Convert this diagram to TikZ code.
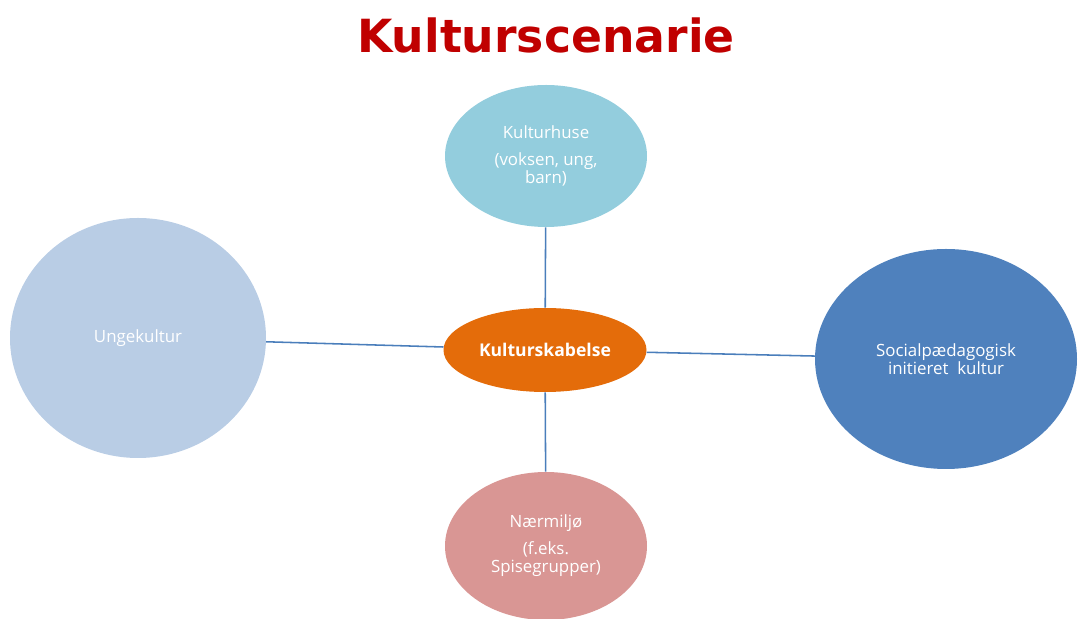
\documentclass[tikz,border=0pt]{standalone}
\usepackage{fontspec}
\setmainfont{Open Sans}
\newfontfamily\titlefont{DejaVu Sans}
\usetikzlibrary{shapes.geometric}
\definecolor{husblue}{HTML}{93CDDD}
\definecolor{skabelse}{HTML}{E46C0A}
\definecolor{miljo}{HTML}{D99694}
\definecolor{unge}{HTML}{B9CDE5}
\definecolor{social}{HTML}{4F81BD}
\definecolor{linkblue}{HTML}{4A7EBB}
\definecolor{titlered}{HTML}{C00000}

\begin{document}
\begin{tikzpicture}
            [el/.style={ellipse, inner sep=0pt, text=white, align=center, font=\fontsize{12}{13}\selectfont}, link/.style={draw=linkblue, line width=1.1pt}]
            \useasboundingbox (0,0) rectangle (26.95,15.475);
            \node[text=titlered, font=\titlefont\bfseries\fontsize{32.5}{36}\selectfont] (title) at (13.65,14.6) {Kulturscenarie};
            \begin{scope}
            \node[el, fill=husblue, minimum width=5.05cm, minimum height=3.55cm] (kh) at (13.65,11.575) {Kulturhuse\\[6pt](voksen, ung,\\barn)};
            \node[el, fill=skabelse, minimum width=5.075cm, minimum height=2.1cm, font=\bfseries\fontsize{12.5}{13}\selectfont] (ks) at (13.625,6.725) {Kulturskabelse};
            \node[el, fill=miljo, minimum width=5.05cm, minimum height=3.7cm] (nm) at (13.65,1.825) {Nærmiljø\\[6pt](f.eks.\\Spisegrupper)};
            \node[el, fill=unge, minimum width=6.4cm, minimum height=6cm] (uk) at (3.45,7.025) {Ungekultur};
            \node[el, fill=social, minimum width=6.55cm, minimum height=5.5cm] (sp) at (23.65,6.5) {Socialpædagogisk\\initieret\ \ kultur};
            \draw[link] (kh) -- (ks);
            \draw[link] (uk) -- (ks);
            \draw[link] (ks) -- (sp);
            \draw[link] (ks) -- (nm);
            \end{scope}
\end{tikzpicture}
\end{document}
